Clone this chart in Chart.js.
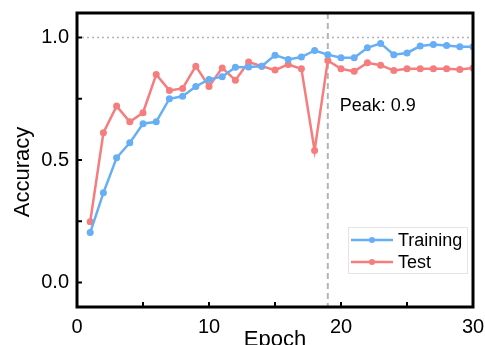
<!DOCTYPE html>
<html>
<head>
<meta charset="utf-8">
<script src="https://cdn.jsdelivr.net/npm/chart.js@4/dist/chart.umd.min.js"></script>
<style>
  body { margin: 0; background: #fff; }
  canvas { display: block; }
</style>
</head>
<body>
<canvas id="chart" width="485" height="345"></canvas>
<script>
const epochs = [1, 2, 3, 4, 5, 6, 7, 8, 9, 10, 11, 12, 13, 14, 15, 16, 17, 18, 19, 20, 21, 22, 23, 24, 25, 26, 27, 28, 29, 30];
const training = [0.204, 0.366, 0.509, 0.570, 0.648, 0.656, 0.750, 0.760, 0.800, 0.829, 0.840, 0.879, 0.880, 0.883, 0.928, 0.910, 0.920, 0.947, 0.930, 0.917, 0.917, 0.958, 0.976, 0.930, 0.937, 0.965, 0.971, 0.967, 0.962, 0.962];
const test = [0.248, 0.611, 0.720, 0.656, 0.693, 0.849, 0.784, 0.792, 0.883, 0.800, 0.876, 0.826, 0.900, 0.883, 0.867, 0.890, 0.872, 0.539, 0.906, 0.872, 0.862, 0.897, 0.887, 0.865, 0.872, 0.872, 0.872, 0.872, 0.869, 0.876];
const xTicks = [0, 5, 10, 15, 20, 25, 30];
const xLabels = [0, 10, 20, 30];
const yTicks = [0, 0.25, 0.5, 0.75, 1.0];
const yLabels = [0, 0.5, 1.0];
const peakEpoch = 19;
const peakText = 'Peak: 0.9';
const refLevel = 1.0;

const BLUE = '#66aef5';
const RED = '#f57d7d';
const FONT = "'Liberation Sans', Arial, sans-serif";

// frame, inward ticks, reference lines, legend and text
const decor = {
  id: 'decor',
  beforeDatasetsDraw(chart) {
    const { ctx, chartArea: a, scales: { x, y } } = chart;
    ctx.save();
    ctx.strokeStyle = '#b4b4b4';
    ctx.lineWidth = 1.5;
    ctx.setLineDash([2, 3]);
    const yr = y.getPixelForValue(refLevel);
    ctx.beginPath();
    ctx.moveTo(a.left, yr);
    ctx.lineTo(a.right, yr);
    ctx.stroke();
    ctx.lineWidth = 2;
    ctx.setLineDash([6, 4]);
    const xp = x.getPixelForValue(peakEpoch);
    ctx.beginPath();
    ctx.moveTo(xp, a.top);
    ctx.lineTo(xp, a.bottom);
    ctx.stroke();
    ctx.restore();
  },
  afterDatasetsDraw(chart) {
    const { ctx, chartArea: a, scales: { x, y } } = chart;
    ctx.save();
    ctx.strokeStyle = '#000';
    ctx.lineWidth = 2;
    xTicks.forEach(v => {
      const px = x.getPixelForValue(v);
      ctx.beginPath();
      ctx.moveTo(px, a.bottom);
      ctx.lineTo(px, a.bottom - 5);
      ctx.stroke();
    });
    yTicks.forEach(v => {
      const py = y.getPixelForValue(v);
      ctx.beginPath();
      ctx.moveTo(a.left, py);
      ctx.lineTo(a.left + 5, py);
      ctx.stroke();
    });
    ctx.lineWidth = 3;
    ctx.strokeRect(a.left, a.top, a.right - a.left, a.bottom - a.top);

    // peak label
    ctx.fillStyle = '#000';
    ctx.font = '18px ' + FONT;
    ctx.textBaseline = 'middle';
    ctx.textAlign = 'left';
    ctx.fillText(peakText, x.getPixelForValue(peakEpoch) + 12, y.getPixelForValue(0.72));

    // legend
    const bx = a.right - 125, by = a.bottom - 80, bw = 119, bh = 46;
    ctx.strokeStyle = '#e4e4e4';
    ctx.lineWidth = 1;
    ctx.strokeRect(bx + 0.5, by + 0.5, bw, bh);
    chart.data.datasets.forEach((ds, i) => {
      const ly = by + 13 + i * 22;
      ctx.strokeStyle = ds.borderColor;
      ctx.lineWidth = 2.5;
      ctx.beginPath();
      ctx.moveTo(bx + 3, ly);
      ctx.lineTo(bx + 45, ly);
      ctx.stroke();
      ctx.fillStyle = ds.borderColor;
      ctx.beginPath();
      ctx.arc(bx + 24, ly, 3, 0, Math.PI * 2);
      ctx.fill();
      ctx.fillStyle = '#000';
      ctx.fillText(ds.label, bx + 50, ly + 1);
    });

    // axis titles
    ctx.font = '22px ' + FONT;
    ctx.textAlign = 'center';
    ctx.textBaseline = 'alphabetic';
    ctx.fillText('Epoch', (a.left + a.right) / 2, 346);
    ctx.translate(29, 172);
    ctx.rotate(-Math.PI / 2);
    ctx.fillText('Accuracy', 0, 0);
    ctx.restore();
  }
};

new Chart(document.getElementById('chart'), {
  type: 'line',
  data: {
    datasets: [{
      label: 'Training',
      data: epochs.map((e, i) => ({ x: e, y: training[i] })),
      borderColor: BLUE,
      backgroundColor: BLUE,
      borderWidth: 2.5,
      pointRadius: 3.5,
      pointBorderWidth: 0,
      tension: 0
    }, {
      label: 'Test',
      data: epochs.map((e, i) => ({ x: e, y: test[i] })),
      borderColor: RED,
      backgroundColor: RED,
      borderWidth: 2.5,
      pointRadius: 3.5,
      pointBorderWidth: 0,
      tension: 0
    }]
  },
  options: {
    responsive: false,
    animation: false,
    layout: { padding: { top: 13, right: 12, left: 0, bottom: 0 } },
    plugins: {
      legend: { display: false },
      tooltip: { enabled: false }
    },
    scales: {
      x: {
        type: 'linear',
        min: 0,
        max: 30,
        afterBuildTicks: s => { s.ticks = xTicks.map(v => ({ value: v })); },
        afterFit: s => { s.height = 38; s.paddingLeft = 0; s.paddingRight = 0; },
        grid: { display: false, drawTicks: false },
        border: { display: false },
        ticks: {
          color: '#000',
          padding: 8,
          maxRotation: 0,
          autoSkip: false,
          font: { family: FONT, size: 20 },
          callback: v => xLabels.includes(v) ? String(v) : ''
        }
      },
      y: {
        type: 'linear',
        min: -0.1,
        max: 1.1,
        afterBuildTicks: s => { s.ticks = yTicks.map(v => ({ value: v })); },
        afterFit: s => { s.width = 77; s.paddingTop = 0; s.paddingBottom = 0; },
        grid: { display: false, drawTicks: false },
        border: { display: false },
        ticks: {
          color: '#000',
          padding: 8,
          autoSkip: false,
          font: { family: FONT, size: 20 },
          callback: v => yLabels.includes(v) ? v.toFixed(1) : ''
        }
      }
    }
  },
  plugins: [decor]
});
</script>
</body>
</html>
